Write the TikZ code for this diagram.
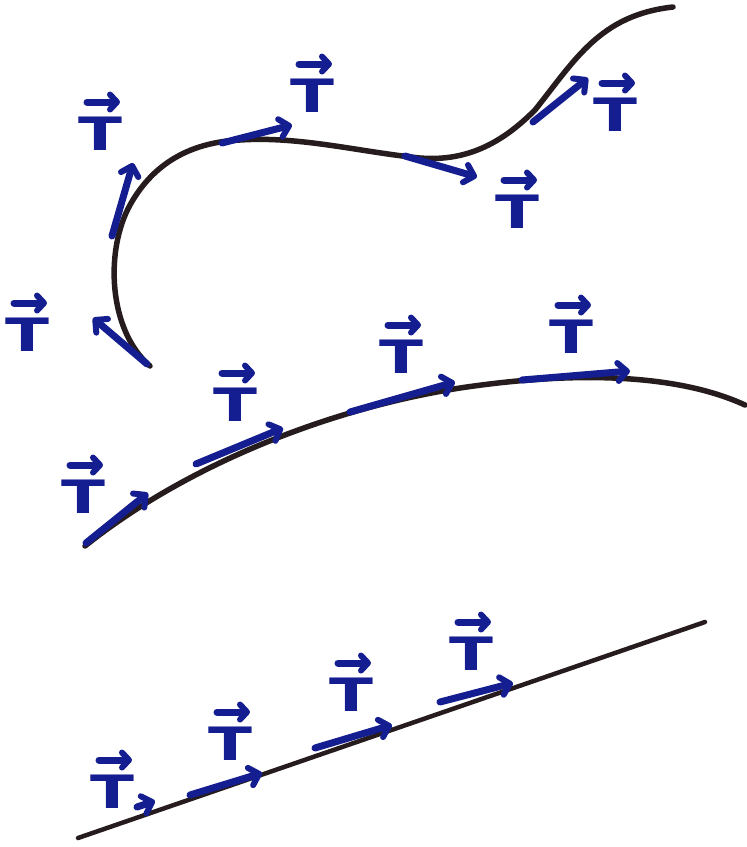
\documentclass[tikz,border=0pt]{standalone}
\usepackage{fontspec}
\setsansfont{DejaVu Sans}
\usetikzlibrary{arrows.meta}
\definecolor{ink}{RGB}{20,30,145}
\definecolor{pen}{RGB}{38,28,30}
\begin{document}
\begin{tikzpicture}[x=1pt,y=-1pt,
  curve/.style={pen,line width=5.5pt,line cap=round},
  tvec/.style={ink,line width=7pt,line cap=round,-{Straight Barb[length=9pt,width=18pt,line width=6pt,round]}},
  accarrow/.style={ink,line width=7pt,line cap=round,-{Straight Barb[length=7pt,width=15pt,line width=6pt,round]}},
  tlabel/.style={ink,font=\fontsize{46}{46}\selectfont\sffamily\bfseries,inner sep=0pt}]
\useasboundingbox (0,0) rectangle (747,847);
% curve 1
\draw[curve] (150,366) .. controls (108,330) and (105,250) .. (130,205)
  .. controls (155,160) and (195,142) .. (240,140)
  .. controls (300,136) and (360,152) .. (420,158)
  .. controls (470,162) and (505,140) .. (535,110)
  .. controls (575,60) and (600,15) .. (673,7);
% curve 2
\draw[curve] (85,546) .. controls (180,470) and (320,410) .. (460,388)
  .. controls (580,370) and (680,375) .. (745,405);
% curve 3
\draw[pen,line width=4.5pt,line cap=round] (78,838) -- (705,622);

% curve 1 vectors
\coordinate (a1) at (147,364); \coordinate (b1) at (93,318);
\coordinate (a2) at (112,236); \coordinate (b2) at (133,163);
\coordinate (a3) at (222,143); \coordinate (b3) at (292,125);
\coordinate (a4) at (405,156); \coordinate (b4) at (477,177);
\coordinate (a5) at (533,122); \coordinate (b5) at (588,78);
\foreach \i in {1,...,5} \draw[tvec] (a\i) -- (b\i);

% curve 2 vectors
\coordinate (c1) at (86,543); \coordinate (d1) at (148,493);
\coordinate (c2) at (196,464); \coordinate (d2) at (283,428);
\coordinate (c3) at (350,412); \coordinate (d3) at (455,382);
\coordinate (c4) at (522,380); \coordinate (d4) at (630,371);
\foreach \i in {1,...,4} \draw[tvec] (c\i) -- (d\i);

% curve 3 vectors
\coordinate (e1) at (137,807); \coordinate (f1) at (155,801);
\coordinate (e2) at (190,795); \coordinate (f2) at (262,773);
\coordinate (e3) at (315,748); \coordinate (f3) at (392,725);
\coordinate (e4) at (440,702); \coordinate (f4) at (513,683);
\foreach \i in {1,...,4} \draw[tvec] (e\i) -- (f\i);

% labels: T with an arrow above
\foreach \n/\x/\y in {l1/27/323, l2/100/122, l3/312/84, l4/517/200, l5/615/103,
                      m1/83/485, m2/235/393, m3/401/345, m4/571/325,
                      n1/112/780, n2/230/732, n3/351/683, n4/471/642} {
  \node[tlabel] (\n) at (\x,\y+12) {\scalebox{1.4}[1]{T}};
  \draw[accarrow] ([xshift=-13pt,yshift=15pt]\n.north) -- ([xshift=20pt,yshift=15pt]\n.north);
}
\end{tikzpicture}
\end{document}
